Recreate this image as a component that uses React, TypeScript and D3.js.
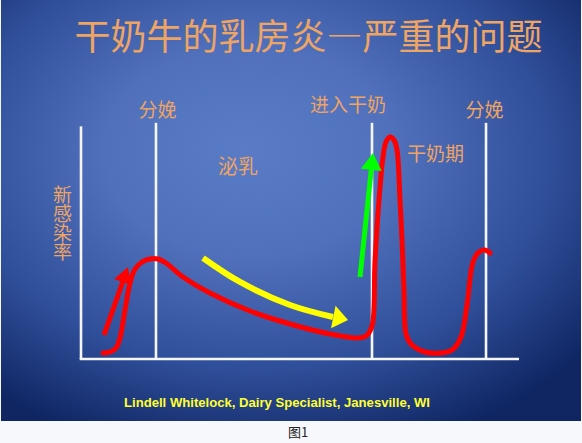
import React from "react";
import * as d3 from "d3";

// Schematic: new infection rate across lactation and the dry period.
// x: relative time (0–100), y: relative infection rate (0–100).

const titleParts = ["干奶牛的乳房炎", "—", "严重的问题"];
const yLabel = "新感染率";
const credit = "Lindell Whitelock, Dairy Specialist, Janesville, WI";
const caption = "图1";

// event markers (vertical lines) on the time axis
const eventX = [17.12, 66.44, 92.47];
const eventLabels = ["分娩", "进入干奶", "分娩"];

// phase labels
const phaseLabels = ["泌乳", "干奶期"];

// infection-rate curve
const curveT = [
  5.02, 6.62, 7.99, 8.9, 10.05, 11.19, 12.33, 13.93, 15.75, 17.58, 19.41, 23.29,
  29.45, 38.58, 47.72, 56.85, 63.01, 65.07, 66.44, 67.12, 68.04, 68.95, 69.63,
  70.55, 71.46, 72.15, 72.83, 73.29, 73.74, 74.2, 75.34, 78.54, 81.96, 84.7,
  86.76, 88.13, 89.5, 90.87, 92.24, 93.38,
];
const curveRate = [
  2.55, 2.98, 4.68, 8.94, 20.85, 32.34, 38.3, 41.28, 42.55, 42.55, 40.85, 34.89,
  28.09, 20.43, 14.89, 10.64, 8.94, 9.79, 14.04, 41.28, 67.66, 85.96, 92.34,
  94.47, 93.19, 88.94, 67.66, 50.64, 29.36, 10.64, 6.38, 2.98, 2.55, 3.83, 9.36,
  22.98, 41.28, 45.53, 46.38, 45.11,
];

// trend arrows (last point is the tip)
const redArrowT = [5.25, 10.73];
const redArrowRate = [10.21, 39.15];
const yellowArrowT = [27.85, 36.3, 47.72, 57.53, 60.96];
const yellowArrowRate = [42.98, 32.77, 22.98, 17.87, 16.6];
const greenArrowT = [63.7, 66.67];
const greenArrowRate = [34.89, 87.66];

const W = 582;
const H = 443;
const CJK = "'Noto Sans CJK SC', 'Noto Sans', sans-serif";
const ORANGE = "#eea463";

const x = d3.scaleLinear().domain([0, 100]).range([81, 519]);
const y = d3.scaleLinear().domain([0, 100]).range([359, 124]);

type P = [number, number];
const toPts = (ts: number[], vs: number[]): P[] =>
  ts.map((t, i) => [x(t), y(vs[i])] as P);

const smooth = d3
  .line<P>()
  .x((d) => d[0])
  .y((d) => d[1])
  .curve(d3.curveCatmullRom.alpha(0.5));

function Arrow({
  pts,
  color,
  width,
  headLen,
  headHalf,
}: {
  pts: P[];
  color: string;
  width: number;
  headLen: number;
  headHalf: number;
}) {
  const tip = pts[pts.length - 1];
  const prev = pts[pts.length - 2];
  const dx = tip[0] - prev[0];
  const dy = tip[1] - prev[1];
  const len = Math.hypot(dx, dy);
  const ux = dx / len;
  const uy = dy / len;
  const bx = tip[0] - ux * headLen;
  const by = tip[1] - uy * headLen;
  const shaft: P[] =
    pts.length > 2 ? pts.slice(0, -1) : [pts[0], [bx + ux * 1, by + uy * 1]];
  const head = [
    [tip[0], tip[1]],
    [bx - uy * headHalf, by + ux * headHalf],
    [bx + uy * headHalf, by - ux * headHalf],
  ]
    .map((p) => p.join(","))
    .join(" ");
  return (
    <g>
      <path
        d={smooth(shaft) || ""}
        fill="none"
        stroke={color}
        strokeWidth={width}
        strokeLinecap="butt"
      />
      <polygon points={head} fill={color} />
    </g>
  );
}

export default function App() {
  const curvePts = toPts(curveT, curveRate);
  const evLabelPos: P[] = [
    [157.5, 117],
    [348, 112],
    [484.5, 117],
  ];
  return (
    <svg
      width={W}
      height={H}
      viewBox={`0 0 ${W} ${H}`}
      style={{ position: "absolute", left: 0, top: 0, display: "block" }}
    >
      <defs>
        <radialGradient id="bg" cx="0.45" cy="0.38" r="0.72" fx="0.42" fy="0.35">
          <stop offset="0" stopColor="#5a7cc6" />
          <stop offset="0.35" stopColor="#5070bb" />
          <stop offset="0.7" stopColor="#304f9a" />
          <stop offset="1" stopColor="#0f2663" />
        </radialGradient>
      </defs>
      <rect x={0} y={0} width={W} height={H} fill="#f6f8fb" />
      <rect x={1} y={0} width={580} height={421} fill="url(#bg)" />

      <text
        x={308.5}
        y={50}
        textAnchor="middle"
        fontFamily={CJK}
        fontSize={36}
        fill={ORANGE}
      >
        <tspan>{titleParts[0]}</tspan>
        <tspan style={{ fontFeatureSettings: "'fwid' 1" }}>{titleParts[1]}</tspan>
        <tspan>{titleParts[2]}</tspan>
      </text>

      {/* axes */}
      <line x1={x(0)} x2={x(0)} y1={y(99)} y2={y(0)} stroke="#f4f6fb" strokeWidth={2.6} />
      <line x1={x(0) - 1.3} x2={x(100)} y1={y(0)} y2={y(0)} stroke="#f4f6fb" strokeWidth={2.6} />
      {eventX.map((t, i) => (
        <line
          key={i}
          x1={x(t)}
          x2={x(t)}
          y1={y(100.5)}
          y2={y(0)}
          stroke="#f4f6fb"
          strokeWidth={2.6}
        />
      ))}

      {eventLabels.map((s, i) => (
        <text
          key={i}
          x={evLabelPos[i][0]}
          y={evLabelPos[i][1]}
          textAnchor="middle"
          fontFamily={CJK}
          fontSize={19}
          fill={ORANGE}
        >
          {s}
        </text>
      ))}

      <text x={238} y={174} textAnchor="middle" fontFamily={CJK} fontSize={20} fill={ORANGE}>
        {phaseLabels[0]}
      </text>
      <text x={435.5} y={161} textAnchor="middle" fontFamily={CJK} fontSize={19} fill={ORANGE}>
        {phaseLabels[1]}
      </text>

      <text
        x={62.5}
        y={185.5}
        fontFamily={CJK}
        fontSize={19}
        fill={ORANGE}
        style={{ writingMode: "vertical-rl" }}
      >
        {yLabel}
      </text>

      {/* infection-rate curve */}
      <path
        d={smooth(curvePts) || ""}
        fill="none"
        stroke="#ff0000"
        strokeWidth={5}
        strokeLinecap="round"
        strokeLinejoin="round"
      />

      <Arrow
        pts={toPts(redArrowT, redArrowRate)}
        color="#ff0000"
        width={5}
        headLen={16}
        headHalf={9}
      />
      <Arrow
        pts={toPts(yellowArrowT, yellowArrowRate)}
        color="#ffff00"
        width={6}
        headLen={15}
        headHalf={11.5}
      />
      <Arrow
        pts={toPts(greenArrowT, greenArrowRate)}
        color="#00ff00"
        width={5}
        headLen={17}
        headHalf={10.5}
      />

      <text
        x={277}
        y={407}
        textAnchor="middle"
        fontFamily="'Liberation Sans', Arial, sans-serif"
        fontWeight="bold"
        fontSize={13}
        fill="#ffff33"
        textLength={306}
        lengthAdjust="spacingAndGlyphs"
      >
        {credit}
      </text>

      <text
        x={298}
        y={437}
        textAnchor="middle"
        fontFamily={CJK}
        fontSize={13}
        fill="#222"
      >
        {caption}
      </text>
    </svg>
  );
}
